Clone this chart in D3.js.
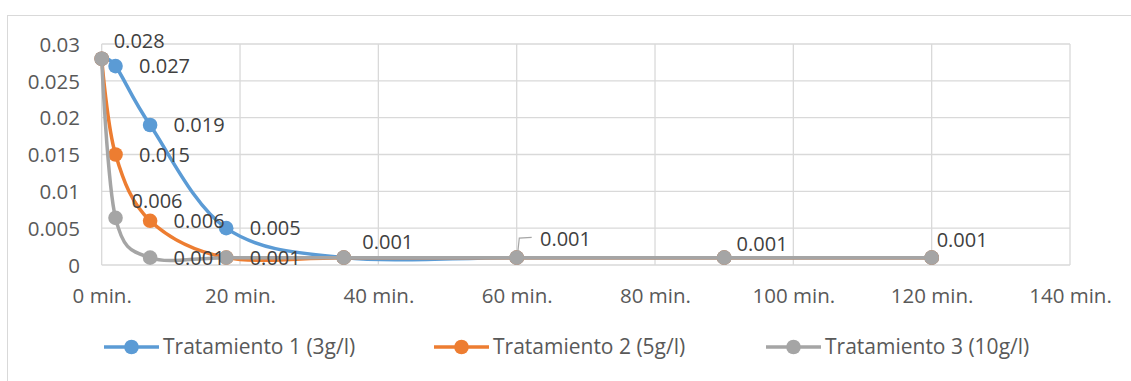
<!DOCTYPE html>
<html>
<head>
<meta charset="utf-8">
<script src="https://cdn.jsdelivr.net/npm/d3@7/dist/d3.min.js"></script>
<style>
  html, body { margin: 0; padding: 0; background: #ffffff; }
  svg { display: block; font-family: "Open Sans", "Liberation Sans", sans-serif; }
</style>
</head>
<body>
<svg id="chart" width="1131" height="381"></svg>
<script>
// Sampling times (minutes)
const times = [0, 2, 7, 18, 35, 60, 90, 120];

// Concentration per treatment at each sampling time
const tratamiento1 = [0.028, 0.027, 0.019, 0.005, 0.001, 0.001, 0.001, 0.001];
const tratamiento2 = [0.028, 0.015, 0.006, 0.001, 0.001, 0.001, 0.001, 0.001];
const tratamiento3 = [0.028, 0.0064, 0.001, 0.001, 0.001, 0.001, 0.001, 0.001];

const seriesNames = ["Tratamiento 1 (3g/l)", "Tratamiento 2 (5g/l)", "Tratamiento 3 (10g/l)"];
const seriesColors = ["#5B9BD5", "#ED7D31", "#A5A5A5"];

// Axis ticks
const xTickValues = [0, 20, 40, 60, 80, 100, 120, 140];
const xTickLabels = ["0 min.", "20 min.", "40 min.", "60 min.", "80 min.", "100 min.", "120 min.", "140 min."];
const yTickValues = [0, 0.005, 0.01, 0.015, 0.02, 0.025, 0.03];
const yTickLabels = ["0", "0.005", "0.01", "0.015", "0.02", "0.025", "0.03"];

// Which points carry a value label, and where the label sits relative to its point
const labelPlacement = [
  { s: 0, i: 0, dx: 12, dy: -11 },
  { s: 0, i: 1, dx: 23.5, dy: 7 },
  { s: 0, i: 2, dx: 23.5, dy: 7 },
  { s: 1, i: 1, dx: 23.5, dy: 7 },
  { s: 2, i: 1, dx: 16, dy: -10 },
  { s: 1, i: 2, dx: 23.5, dy: 7 },
  { s: 0, i: 3, dx: 23.5, dy: 7 },
  { s: 2, i: 2, dx: 23.5, dy: 7 },
  { s: 1, i: 3, dx: 23.5, dy: 7 },
  { s: 2, i: 4, dx: 18.5, dy: -9 },
  { s: 2, i: 5, dx: 23.3, dy: -11.6, leader: true },
  { s: 2, i: 6, dx: 12.4, dy: -7 },
  { s: 2, i: 7, dx: 5, dy: -11 }
];

const seriesValues = [tratamiento1, tratamiento2, tratamiento3];
const series = seriesValues.map((vals, k) => ({
  name: seriesNames[k],
  color: seriesColors[k],
  points: vals.map((v, i) => ({ t: times[i], v }))
}));

const svg = d3.select("#chart");
const plot = { left: 101.7, right: 1070, top: 44, bottom: 265 };

const x = d3.scaleLinear().domain([0, 140]).range([plot.left, plot.right]);
const y = d3.scaleLinear().domain([0, 0.03]).range([plot.bottom, plot.top]);

// Chart area outline
svg.append("rect")
  .attr("x", 7.5).attr("y", 15.5)
  .attr("width", 1200).attr("height", 400)
  .attr("fill", "#ffffff")
  .attr("stroke", "#D9D9D9").attr("stroke-width", 1);

// Gridlines
const grid = svg.append("g");
grid.selectAll("line.h").data(yTickValues).join("line")
  .attr("x1", plot.left).attr("x2", plot.right)
  .attr("y1", d => y(d)).attr("y2", d => y(d))
  .attr("stroke", "#D9D9D9").attr("stroke-width", 1.3);
grid.selectAll("line.v").data(xTickValues).join("line")
  .attr("y1", plot.top).attr("y2", plot.bottom)
  .attr("x1", d => x(d)).attr("x2", d => x(d))
  .attr("stroke", "#D9D9D9").attr("stroke-width", 1.3);

// Axes (labels only; grid draws the lines)
const xAxis = d3.axisBottom(x).tickValues(xTickValues)
  .tickFormat((d, i) => xTickLabels[i]).tickSize(0).tickPadding(0);
svg.append("g").attr("transform", `translate(0,${plot.bottom})`).call(xAxis)
  .call(g => g.select(".domain").remove())
  .call(g => g.selectAll("text")
    .attr("dy", null).attr("y", 38)
    .attr("fill", "#595959").attr("font-size", 20.5)
    .attr("font-family", "'Open Sans', sans-serif"));

const yAxis = d3.axisLeft(y).tickValues(yTickValues)
  .tickFormat((d, i) => yTickLabels[i]).tickSize(0).tickPadding(0);
svg.append("g").attr("transform", `translate(80,0)`).call(yAxis)
  .call(g => g.select(".domain").remove())
  .call(g => g.selectAll("text")
    .attr("dy", "0.35em").attr("x", 0)
    .attr("fill", "#595959").attr("font-size", 20.5)
    .attr("font-family", "'Open Sans', sans-serif"));

// Smoothed lines and markers
const line = d3.line()
  .x(d => x(d.t)).y(d => y(d.v))
  .curve(d3.curveCatmullRom.alpha(0));

const sg = svg.append("g").selectAll("g").data(series).join("g");
sg.append("path")
  .attr("d", d => line(d.points))
  .attr("fill", "none")
  .attr("stroke", d => d.color)
  .attr("stroke-width", 3.5)
  .attr("stroke-linecap", "round");
sg.selectAll("circle").data(d => d.points.map(p => ({ ...p, color: d.color }))).join("circle")
  .attr("cx", d => x(d.t)).attr("cy", d => y(d.v))
  .attr("r", 7.3)
  .attr("fill", d => d.color);

// Value labels
const fmt = d3.format(".3f");
const lg = svg.append("g");
labelPlacement.forEach(L => {
  const p = series[L.s].points[L.i];
  const px = x(p.t), py = y(p.v);
  if (L.leader) {
    lg.append("path")
      .attr("d", `M${px + 1},${py - 4.5}L${px + 2.6},${py - 19.5}L${px + 15},${py - 20.3}`)
      .attr("fill", "none").attr("stroke", "#A6A6A6").attr("stroke-width", 1.2);
  }
  lg.append("text")
    .attr("x", px + L.dx).attr("y", py + L.dy)
    .attr("fill", "#404040").attr("font-size", 20)
    .text(fmt(p.v));
});

// Legend
const legendX = [104, 434, 766];
const legendY = 347;
const leg = svg.append("g").selectAll("g").data(series).join("g")
  .attr("transform", (d, i) => `translate(${legendX[i]},${legendY})`);
leg.append("line")
  .attr("x1", 0).attr("x2", 55).attr("y1", 0).attr("y2", 0)
  .attr("stroke", d => d.color).attr("stroke-width", 3.5);
leg.append("circle")
  .attr("cx", 27.5).attr("cy", 0).attr("r", 7.3)
  .attr("fill", d => d.color);
leg.append("text")
  .attr("x", 59).attr("y", 0).attr("dy", "0.35em")
  .attr("fill", "#595959").attr("font-size", 21)
  .text(d => d.name);
</script>
</body>
</html>
